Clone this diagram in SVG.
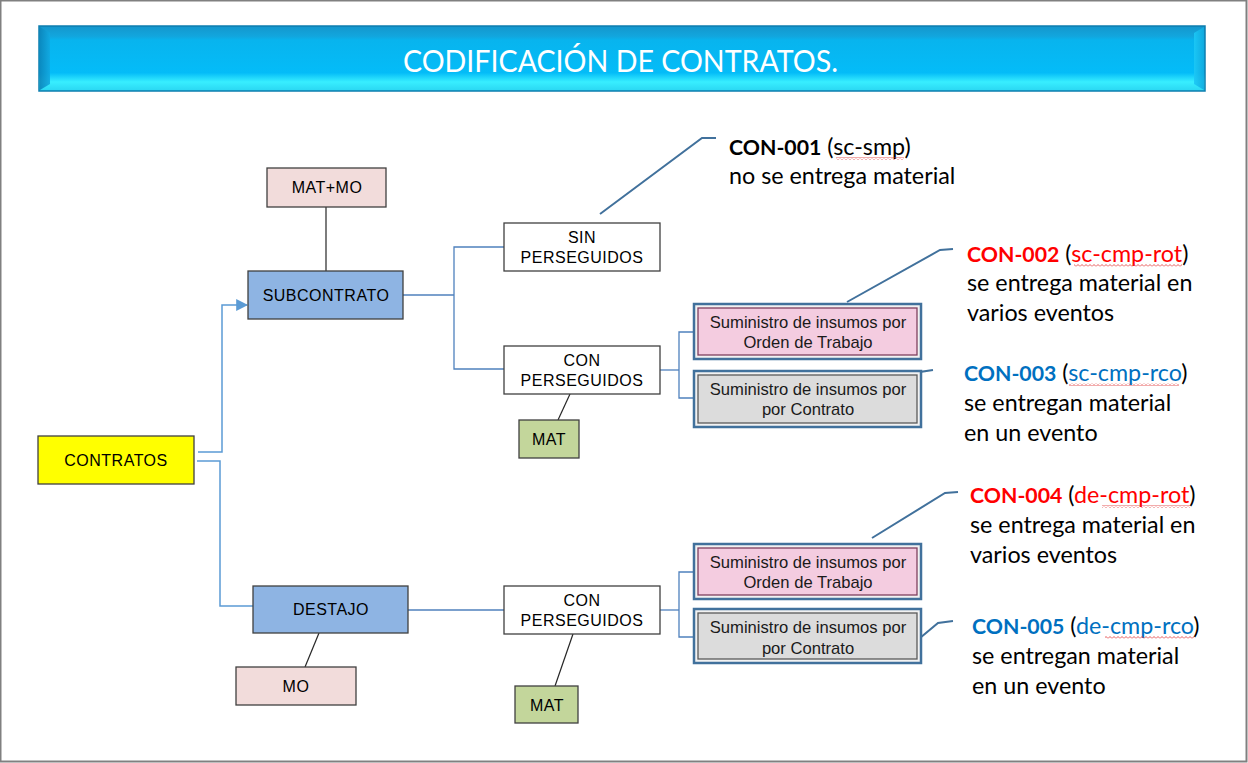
<svg xmlns="http://www.w3.org/2000/svg" width="1248" height="763" viewBox="0 0 1248 763">
<defs>
<linearGradient id="ban" x1="0" y1="0" x2="0" y2="1">
<stop offset="0" stop-color="#1496CC"/>
<stop offset="0.16" stop-color="#12A6DE"/>
<stop offset="0.22" stop-color="#08B4EE"/>
<stop offset="0.72" stop-color="#04BCF8"/>
<stop offset="0.86" stop-color="#38EEFF"/>
<stop offset="1" stop-color="#2AD6F2"/>
</linearGradient>
<linearGradient id="lb" x1="0" y1="0" x2="1" y2="0">
<stop offset="0" stop-color="#0B86BC"/>
<stop offset="1" stop-color="#12A8E0"/>
</linearGradient>
<linearGradient id="rb" x1="0" y1="0" x2="1" y2="0">
<stop offset="0" stop-color="#1CC8F6"/>
<stop offset="1" stop-color="#10AADF"/>
</linearGradient>
<marker id="arr" viewBox="0 0 10 10" refX="9" refY="5" markerWidth="12" markerHeight="12" markerUnits="userSpaceOnUse" orient="auto">
<path d="M0,0 L10,5 L0,10 z" fill="#5B9BD5"/>
</marker>
<pattern id="wv" width="4" height="3" patternUnits="userSpaceOnUse">
<path d="M0,2.5 L2,0.5 L4,2.5" stroke="#E03030" stroke-width="0.8" fill="none"/>
</pattern>
</defs>
<style>
.box{stroke:#404040;stroke-width:1.3}
.bt{font-family:"Liberation Sans",Arial,sans-serif;font-size:16px;fill:#000;text-anchor:middle;letter-spacing:0.5px}
.st{font-family:"Liberation Sans",Arial,sans-serif;font-size:16.6px;fill:#1a1a1a;text-anchor:middle}
.conn{fill:none;stroke:#5B9BD5;stroke-width:1.5}
.tree{fill:none;stroke:#4F81BD;stroke-width:1.3}
.tie{fill:none;stroke:#262626;stroke-width:1.2}
.call{fill:none;stroke:#41719C;stroke-width:2}
.ct{font-family:Lato,"Open Sans",sans-serif;font-size:23.3px;fill:#000}
.b{font-weight:bold;font-size:21.3px}
.red{fill:#FF0000}
.blue{fill:#0070C0}
</style>
<rect x="0.5" y="0.5" width="1246" height="761" fill="#fff" stroke="#808080" stroke-width="2"/>

<g id="title">
<rect x="39" y="26" width="1166" height="65" fill="url(#ban)" stroke="#0E7DAE" stroke-width="1.5"/>
<polygon points="40,27 50,33 50,84 40,90" fill="url(#lb)" opacity="0.9"/>
<polygon points="1204,27 1194,33 1194,84 1204,90" fill="url(#rb)" opacity="0.9"/>
<text x="403" y="72" textLength="435" lengthAdjust="spacingAndGlyphs" font-family="Lato,'Open Sans',sans-serif" font-size="31" fill="#fff">CODIFICACIÓN DE CONTRATOS.</text>
</g>

<g id="connectors">
<polyline class="conn" points="198,452 222,452 222,305 247,305" marker-end="url(#arr)"/>
<polyline class="conn" points="197,461 220,461 220,606 253,606"/>
<line class="tie" x1="326" y1="207" x2="326" y2="271"/>
<line class="tie" x1="319" y1="633" x2="305" y2="667"/>
<polyline class="tree" points="403,295 454,295"/>
<polyline class="tree" points="504,247 454,247 454,369 504,369"/>
<line class="tie" x1="570" y1="394" x2="558" y2="420"/>
<polyline class="tree" points="660,370 679,370"/>
<polyline class="tree" points="694,332 679,332 679,398 694,398"/>
<line class="tree" x1="408" y1="610" x2="504" y2="610"/>
<line class="tie" x1="573" y1="634" x2="555" y2="686"/>
<polyline class="tree" points="660,610 679,610"/>
<polyline class="tree" points="694,572 679,572 679,637 694,637"/>
<polyline class="call" points="600,214 702,138 716,138"/>
<polyline class="call" points="847,302 940,250 953,249"/>
<polyline class="call" points="908,412 920,372 933,370"/>
<polyline class="call" points="872,538 945,493 958,492"/>
<polyline class="call" points="908,648 938,623 953,621"/>
</g>

<g id="mat-mo-top">
<rect class="box" x="267" y="168" width="119" height="39" fill="#F2DCDB" stroke="#7F7F7F"/>
<text class="bt" x="327" y="193">MAT+MO</text>
</g>
<g id="subcontrato">
<rect class="box" x="248" y="271" width="155" height="48" fill="#8EB4E3"/>
<text class="bt" x="326" y="301">SUBCONTRATO</text>
</g>
<g id="contratos">
<rect class="box" x="38" y="436" width="156" height="48" fill="#FFFF00"/>
<text class="bt" x="116" y="466">CONTRATOS</text>
</g>
<g id="destajo">
<rect class="box" x="253" y="586" width="155" height="47" fill="#8EB4E3"/>
<text class="bt" x="331" y="615">DESTAJO</text>
</g>
<g id="mo">
<rect class="box" x="236" y="667" width="120" height="38" fill="#F2DCDB"/>
<text class="bt" x="296" y="692">MO</text>
</g>
<g id="sin-perseguidos">
<rect class="box" x="504" y="223" width="156" height="48" fill="#fff"/>
<text class="bt" x="582" y="243">SIN</text>
<text class="bt" x="582" y="263">PERSEGUIDOS</text>
</g>
<g id="con-perseguidos-1">
<rect class="box" x="504" y="346" width="156" height="48" fill="#fff"/>
<text class="bt" x="582" y="366">CON</text>
<text class="bt" x="582" y="386">PERSEGUIDOS</text>
</g>
<g id="mat-1">
<rect class="box" x="519" y="420" width="60" height="38" fill="#C3D69B" stroke="#595959"/>
<text class="bt" x="549" y="445">MAT</text>
</g>
<g id="con-perseguidos-2">
<rect class="box" x="504" y="586" width="156" height="48" fill="#fff"/>
<text class="bt" x="582" y="606">CON</text>
<text class="bt" x="582" y="626">PERSEGUIDOS</text>
</g>
<g id="mat-2">
<rect class="box" x="515" y="686" width="63" height="37" fill="#C3D69B" stroke="#595959"/>
<text class="bt" x="547" y="711">MAT</text>
</g>

<g id="ot-1">
<rect x="694" y="304" width="227" height="55" fill="#F2F2F2" stroke="#41719C" stroke-width="2.5"/>
<rect x="698" y="308" width="219" height="47" fill="#F4CCE0" stroke="#7F3F5F" stroke-width="1.3"/>
<text class="st" x="808" y="328">Suministro de insumos por</text>
<text class="st" x="808" y="348">Orden de Trabajo</text>
</g>
<g id="rc-1">
<rect x="694" y="371" width="227" height="56" fill="#F2F2F2" stroke="#41719C" stroke-width="2.5"/>
<rect x="698" y="375" width="219" height="48" fill="#DCDCDC" stroke="#595959" stroke-width="1.3"/>
<text class="st" x="808" y="395">Suministro de insumos por</text>
<text class="st" x="808" y="415">por Contrato</text>
</g>
<g id="ot-2">
<rect x="694" y="544" width="227" height="55" fill="#F2F2F2" stroke="#41719C" stroke-width="2.5"/>
<rect x="698" y="548" width="219" height="47" fill="#F4CCE0" stroke="#7F3F5F" stroke-width="1.3"/>
<text class="st" x="808" y="568">Suministro de insumos por</text>
<text class="st" x="808" y="588">Orden de Trabajo</text>
</g>
<g id="rc-2">
<rect x="694" y="609" width="227" height="54" fill="#F2F2F2" stroke="#41719C" stroke-width="2.5"/>
<rect x="698" y="613" width="219" height="46" fill="#DCDCDC" stroke="#595959" stroke-width="1.3"/>
<text class="st" x="808" y="633">Suministro de insumos por</text>
<text class="st" x="808" y="654">por Contrato</text>
</g>

<g id="con-001">
<text class="ct" x="729" y="155"><tspan class="b">CON-001</tspan> (sc-smp)</text>
<rect x="836" y="157" width="68" height="3" fill="url(#wv)"/>
<text class="ct" x="729" y="184">no se entrega material</text>
</g>
<g id="con-002">
<text class="ct" x="967" y="262"><tspan class="red b">CON-002</tspan> (<tspan class="red">sc-cmp-rot</tspan>)</text>
<rect x="1074" y="264" width="108" height="3" fill="url(#wv)"/>
<text class="ct" x="967" y="291">se entrega material en</text>
<text class="ct" x="967" y="321">varios eventos</text>
</g>
<g id="con-003">
<text class="ct" x="964" y="381"><tspan class="blue b">CON-003</tspan> (<tspan class="blue">sc-cmp-rco</tspan>)</text>
<rect x="1069" y="383" width="110" height="3" fill="url(#wv)"/>
<text class="ct" x="964" y="411">se entregan material</text>
<text class="ct" x="964" y="441">en un evento</text>
</g>
<g id="con-004">
<text class="ct" x="970" y="503"><tspan class="red b">CON-004</tspan> (<tspan class="red">de-cmp-rot</tspan>)</text>
<rect x="1102" y="505" width="88" height="3" fill="url(#wv)"/>
<text class="ct" x="970" y="533">se entrega material en</text>
<text class="ct" x="970" y="563">varios eventos</text>
</g>
<g id="con-005">
<text class="ct" x="972" y="634"><tspan class="blue b">CON-005</tspan> (<tspan class="blue">de-cmp-rco</tspan>)</text>
<rect x="1105" y="636" width="89" height="3" fill="url(#wv)"/>
<text class="ct" x="972" y="664">se entregan material</text>
<text class="ct" x="972" y="694">en un evento</text>
</g>
</svg>
